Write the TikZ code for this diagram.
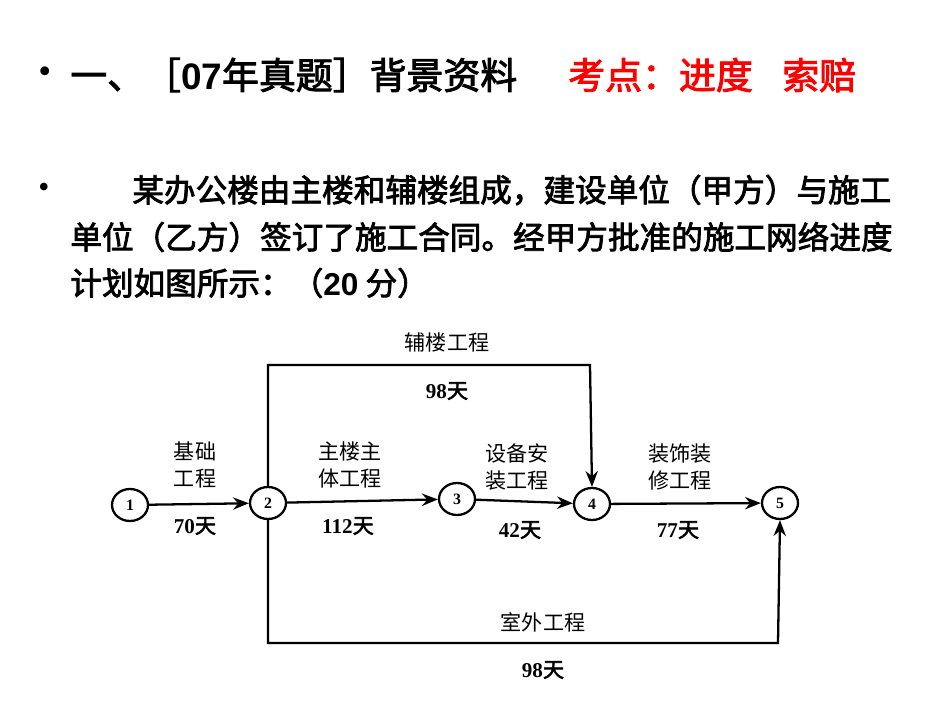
\documentclass[tikz,border=0pt]{standalone}
\usepackage{fontspec}
\setmainfont{Liberation Serif}
\newfontfamily\cjk[AutoFakeBold=2.5]{Noto Sans CJK SC}
\newfontfamily\hd{Liberation Sans}
\usetikzlibrary{arrows.meta,shapes.geometric}
\begin{document}
\begin{tikzpicture}[x=0.02cm,y=-0.02cm,
  ev/.style={draw,line width=1.3pt,ellipse,inner sep=0pt,minimum width=0.72cm,minimum height=0.64cm,font=\bfseries\small},
  lab/.style={font=\cjk\fontsize{12pt}{15.5pt}\selectfont,align=center,inner sep=0pt},
  dur/.style={font=\bfseries\fontsize{12pt}{14pt}\selectfont,inner sep=0pt},
  ar/.style={line width=1.3pt,-{Stealth[length=9pt,width=7pt]}},
  ttl/.style={anchor=west,inner sep=0pt,font=\fontsize{21pt}{24pt}\selectfont},
  par/.style={anchor=west,inner sep=0pt,font=\fontsize{18pt}{21pt}\selectfont}]
\useasboundingbox (0,0) rectangle (950,713);
\node[ttl] (b0) at (38,75) {\textbullet};
\node[ttl] (t1) at (70,75) {\cjk\bfseries 一、［{\hd\bfseries 07}年真题］背景资料};
\node[ttl,text=red] (t2) at (568,75) {\cjk\bfseries 考点：进度\hspace{0.8em}索赔};
\node[par] (b1) at (38,190) {\textbullet};
\node[par] (p1) at (132,190) {\cjk\bfseries 某办公楼由主楼和辅楼组成，建设单位（甲方）与施工};
\node[par] (p2) at (70,237) {\cjk\bfseries 单位（乙方）签订了施工合同。经甲方批准的施工网络进度};
\node[par] (p3) at (70,283) {\cjk\bfseries 计划如图所示：（{\hd\bfseries 20} 分）};
\node[ev] (n1) at (130,505) {1};
\node[ev] (n2) at (268,503) {2};
\node[ev] (n3) at (457,499) {3};
\node[ev] (n4) at (592,504) {4};
\node[ev] (n5) at (780,503) {5};
\draw[ar] (n1) -- (n2);
\draw[ar] (n2) -- (n3);
\draw[ar] (n3) -- (n4);
\draw[ar] (n4) -- (n5);
\draw[ar] (n2.north) -- (268,365) -- (590,365) -- (n4.north);
\draw[ar] (n2.south) -- (268,643) -- (778,643) -- (n5.south);
\node[lab] (l0) at (447,342) {辅楼工程};
\node[dur] (d0) at (447,391) {98{\cjk 天}};
\node[lab] (l1) at (195,465) {基础\\工程};
\node[dur] (d1) at (195,526) {70{\cjk 天}};
\node[lab] (l2) at (350,465) {主楼主\\体工程};
\node[dur] (d2) at (348,526) {112{\cjk 天}};
\node[lab] (l3) at (517,467) {设备安\\装工程};
\node[dur] (d3) at (520,530) {42{\cjk 天}};
\node[lab] (l4) at (680,467) {装饰装\\修工程};
\node[dur] (d4) at (678,530) {77{\cjk 天}};
\node[lab] (l5) at (543,622) {室外工程};
\node[dur] (d5) at (543,670) {98{\cjk 天}};
\end{tikzpicture}
\end{document}
